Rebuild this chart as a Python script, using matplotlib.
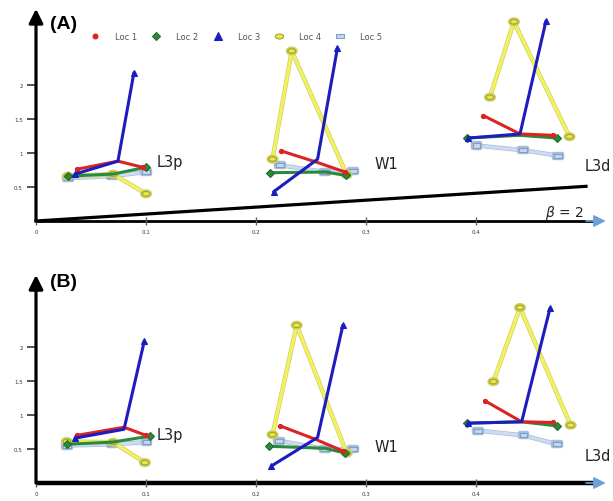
import numpy as np
import matplotlib.pyplot as plt
from matplotlib.path import Path
from matplotlib.transforms import Affine2D
import matplotlib.patheffects as pe

# Серии: по 3 точки на группу (L3p, W1, L3d)
locs = ['Loc 1', 'Loc 2', 'Loc 3', 'Loc 4', 'Loc 5']
groups = ['L3p', 'W1', 'L3d']

# Панель A
a_loc1_x = [0.037, 0.0745, 0.097, 0.223, 0.256, 0.281, 0.4067, 0.440, 0.4703]
a_loc1_y = [0.76, 0.88, 0.79, 1.03, 0.86, 0.72, 1.55, 1.28, 1.26]
a_loc2_x = [0.029, 0.070, 0.100, 0.213, 0.263, 0.282, 0.3915, 0.440, 0.4734]
a_loc2_y = [0.66, 0.69, 0.79, 0.71, 0.72, 0.67, 1.22, 1.26, 1.22]
a_loc3_x = [0.0355, 0.0745, 0.089, 0.216, 0.256, 0.274, 0.393, 0.440, 0.4636]
a_loc3_y = [0.69, 0.88, 2.18, 0.43, 0.91, 2.54, 1.22, 1.28, 2.94]
a_loc4_x = [0.029, 0.070, 0.100, 0.215, 0.2325, 0.2825, 0.4127, 0.4345, 0.485]
a_loc4_y = [0.66, 0.69, 0.40, 0.91, 2.50, 0.68, 1.82, 2.93, 1.24]
a_loc5_x = [0.029, 0.069, 0.100, 0.222, 0.263, 0.288, 0.4006, 0.443, 0.4748]
a_loc5_y = [0.63, 0.66, 0.72, 0.82, 0.72, 0.74, 1.11, 1.04, 0.96]

# Панель B
b_loc1_x = [0.037, 0.080, 0.100, 0.222, 0.256, 0.279, 0.408, 0.4415, 0.470]
b_loc1_y = [0.70, 0.82, 0.70, 0.84, 0.63, 0.47, 1.21, 0.90, 0.89]
b_loc2_x = [0.028, 0.069, 0.104, 0.212, 0.263, 0.281, 0.3915, 0.4415, 0.4734]
b_loc2_y = [0.57, 0.60, 0.69, 0.54, 0.51, 0.44, 0.88, 0.90, 0.84]
b_loc3_x = [0.0355, 0.080, 0.0985, 0.214, 0.256, 0.279, 0.393, 0.4415, 0.4673]
b_loc3_y = [0.66, 0.79, 2.09, 0.25, 0.67, 2.32, 0.88, 0.90, 2.57]
b_loc4_x = [0.028, 0.070, 0.099, 0.215, 0.237, 0.2825, 0.4158, 0.440, 0.486]
b_loc4_y = [0.61, 0.60, 0.30, 0.71, 2.32, 0.44, 1.49, 2.58, 0.85]
b_loc5_x = [0.028, 0.069, 0.1006, 0.221, 0.263, 0.288, 0.4021, 0.4431, 0.4734]
b_loc5_y = [0.55, 0.57, 0.60, 0.62, 0.50, 0.50, 0.77, 0.70, 0.57]

# линия beta = 2 (только на A)
ref_x = [0, 0.5]
ref_y = [0, 0.51]

xticks = [0, 0.1, 0.2, 0.3, 0.4]
xtick_labels = ['0', '0.1', '0.2', '0.3', '0.4']
yticks = [0.5, 1, 1.5, 2]
ytick_labels = ['0.5', '1', '1.5', '2']

# маркеры
oval = Path.unit_circle().transformed(Affine2D().scale(1, 0.6))
rect = Path([(-1, -0.55), (1, -0.55), (1, 0.55), (-1, 0.55), (-1, -0.55)],
            [Path.MOVETO, Path.LINETO, Path.LINETO, Path.LINETO, Path.CLOSEPOLY])

styles = {
    'Loc 1': dict(color='#dd2222', marker='o', ms=3, mec='#dd2222', mfc='#dd2222', z=5, every=[0, 2]),
    'Loc 2': dict(color='#2a8a3a', marker='D', ms=4, mec='#1f6f2c', mfc='#2a8a3a', z=4, every=[0, 2]),
    'Loc 3': dict(color='#1c1cc0', marker='^', ms=5, mec='#1c1cc0', mfc='#1c1cc0', z=6, every=[0, 2]),
    'Loc 4': dict(color='#f2f260', marker=oval, ms=5.5, mec='#a3a32a', mfc='#e8e84a', z=3, every=None),
    'Loc 5': dict(color='#cddcf0', marker=rect, ms=5.5, mec='#7f9fc8', mfc='#c8d8ee', z=2, every=None),
}
edge = {'Loc 4': '#cfcf66', 'Loc 5': '#a9bdd8'}

fig = plt.figure(figsize=(6.13, 5.02), dpi=100)
ax_a = fig.add_axes([0, 252 / 502, 1, 250 / 502])
ax_b = fig.add_axes([0, 0, 1, 252 / 502])

panels = [
    (ax_a, 'A', [(a_loc1_x, a_loc1_y), (a_loc2_x, a_loc2_y), (a_loc3_x, a_loc3_y),
                 (a_loc4_x, a_loc4_y), (a_loc5_x, a_loc5_y)],
     (-0.4118, 3.2647), 3.12, [(0.110, 0.87), (0.308, 0.84), (0.499, 0.81)], 2.91, 2.0),
    (ax_b, 'B', [(b_loc1_x, b_loc1_y), (b_loc2_x, b_loc2_y), (b_loc3_x, b_loc3_y),
                 (b_loc4_x, b_loc4_y), (b_loc5_x, b_loc5_y)],
     (-0.2647, 3.441), 3.06, [(0.110, 0.71), (0.308, 0.54), (0.499, 0.40)], 2.96, 3.2),
]

for ax, name, series, ylim, ytop, label_pos, title_y, xlw in panels:
    ax.set_xlim(-0.03273, 0.52455)
    ax.set_ylim(*ylim)
    for s in ax.spines.values():
        s.set_visible(False)
    ax.spines['left'].set_position(('data', 0))
    ax.spines['bottom'].set_position(('data', 0))
    ax.patch.set_alpha(0)

    # оси со стрелками
    ax.annotate('', xy=(0, ytop), xytext=(0, 0),
                arrowprops=dict(arrowstyle='-|>,head_length=0.6,head_width=0.3',
                                lw=2.3, color='black', shrinkA=0, shrinkB=0,
                                mutation_scale=14))
    ax.plot([0, 0.507], [0, 0], color='black', lw=xlw, solid_capstyle='butt', zorder=1)
    ax.annotate('', xy=(0.518, 0), xytext=(0.500, 0),
                arrowprops=dict(arrowstyle='-|>,head_length=0.6,head_width=0.3',
                                lw=1.2, color='#6f9fd8', shrinkA=0, shrinkB=0,
                                mutation_scale=12))

    ax.set_xticks(xticks)
    ax.set_xticklabels(xtick_labels)
    ax.set_yticks(yticks)
    ax.set_yticklabels(ytick_labels)
    ax.tick_params(axis='x', direction='inout', length=6, width=1, pad=3,
                   labelsize=4, colors='#556070', labelcolor='#333333')
    ax.tick_params(axis='y', direction='out', length=6.5, width=1.2, pad=3,
                   labelsize=4, colors='#333333')

    for loc, (xs, ys) in zip(locs, series):
        st = styles[loc]
        for g in range(3):
            gx = xs[3 * g:3 * g + 3]
            gy = ys[3 * g:3 * g + 3]
            line, = ax.plot(gx, gy, color=st['color'], lw=2.2, marker=st['marker'],
                            ms=st['ms'], mfc=st['mfc'], mec=st['mec'], mew=0.8,
                            markevery=st['every'], zorder=st['z'],
                            solid_capstyle='round')
            if loc in edge:
                line.set_path_effects([pe.Stroke(linewidth=3.2, foreground=edge[loc]),
                                       pe.Normal()])

    for grp, (tx, ty) in zip(groups, label_pos):
        ax.text(tx, ty, grp, fontsize=10.5, color='#222222', ha='left', va='center')

    ax.text(0.0127, title_y, f'({name})', fontsize=14, fontweight='bold',
            family='Liberation Sans', ha='left', va='center')

# линия beta и подпись на A
ax_a.plot(ref_x, ref_y, color='black', lw=2.3, zorder=1)
ax_a.text(0.463, 0.13, r'$\beta$ = 2', fontsize=10, color='#222222', ha='left', va='center')

# легенда
handles = []
for loc in locs:
    st = styles[loc]
    h, = ax_a.plot([], [], ls='none', marker=st['marker'], ms=st['ms'] + 0.5,
                   mfc=st['mfc'], mec=st['mec'], mew=0.8)
    handles.append(h)
ax_a.legend(handles, locs, ncol=5, frameon=False, fontsize=6, labelcolor='#555555',
            handlelength=1, handletextpad=1.9, columnspacing=1.8,
            loc='center left', bbox_to_anchor=(0.05, 2.71),
            bbox_transform=ax_a.transData, borderaxespad=0, borderpad=0)

fig.savefig('out.png', dpi=100)
